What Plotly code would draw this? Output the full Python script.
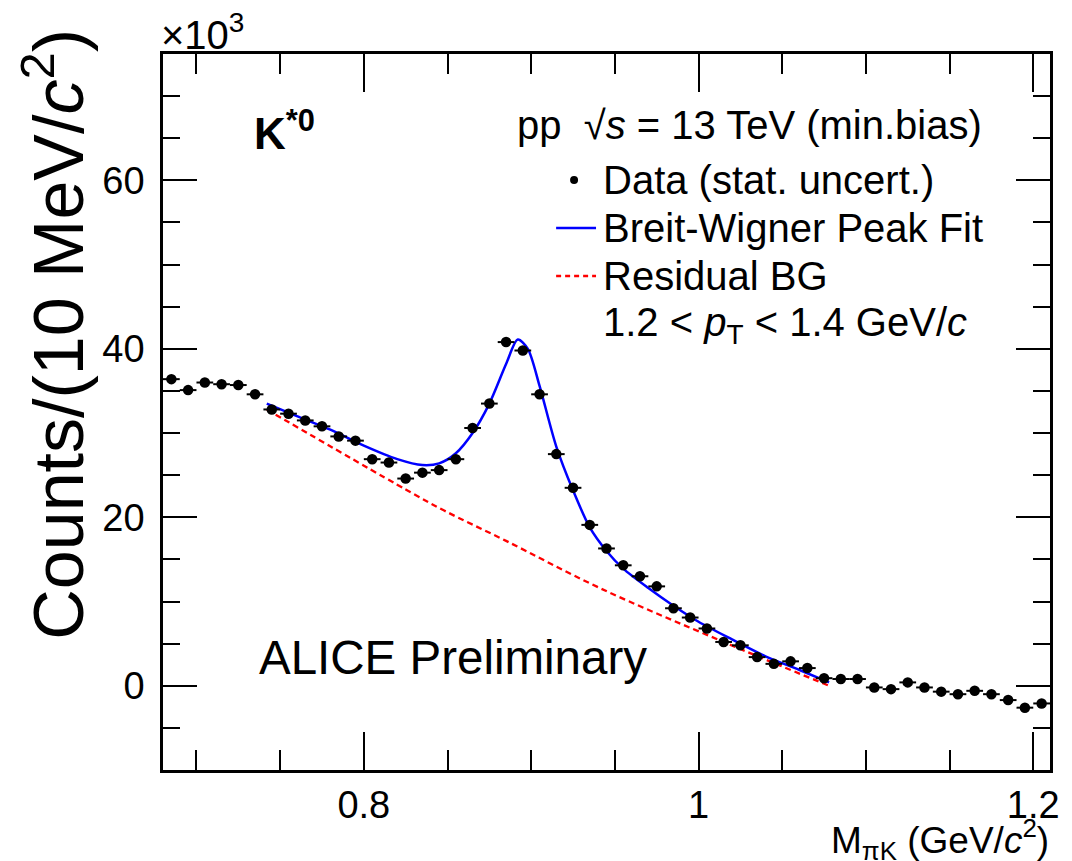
import plotly.graph_objects as go

# ---- data (counts in units of 10^3 per 10 MeV/c^2) ----
mass = [0.685, 0.695, 0.705, 0.715, 0.725, 0.735, 0.745, 0.755, 0.765, 0.775,
        0.785, 0.795, 0.805, 0.815, 0.825, 0.835, 0.845, 0.855, 0.865, 0.875,
        0.885, 0.895, 0.905, 0.915, 0.925, 0.935, 0.945, 0.955, 0.965, 0.975,
        0.985, 0.995, 1.005, 1.015, 1.025, 1.035, 1.045, 1.055, 1.065, 1.075,
        1.085, 1.095, 1.105, 1.115, 1.125, 1.135, 1.145, 1.155, 1.165, 1.175,
        1.185, 1.195, 1.205]
counts = [36.4, 35.1, 36.0, 35.8, 35.7, 34.6, 32.8, 32.3, 31.5, 30.8,
          29.6, 29.1, 26.9, 26.5, 24.6, 25.3, 25.6, 26.9, 30.6, 33.5,
          40.8, 39.8, 34.6, 27.5, 23.5, 19.1, 16.3, 14.3, 13.0, 11.8,
          9.2, 8.1, 6.8, 5.2, 4.8, 3.4, 2.6, 2.9, 2.1, 0.9,
          0.8, 0.8, -0.2, -0.4, 0.4, -0.2, -0.7, -1.0, -0.6, -1.0,
          -1.7, -2.6, -2.1]
stat_err = [0.25] * len(mass)
bin_half = [0.005] * len(mass)

fit_mass = [0.742, 0.76, 0.78, 0.80, 0.82, 0.835, 0.845, 0.855, 0.865, 0.875,
            0.885, 0.892, 0.898, 0.905, 0.915, 0.925, 0.935, 0.945, 0.955, 0.97,
            0.985, 1.00, 1.02, 1.04, 1.06, 1.078]
fit_counts = [33.5, 32.0, 30.4, 28.5, 26.9, 26.2, 26.4, 27.6, 30.0, 33.5,
              38.2, 41.1, 40.0, 35.6, 28.4, 23.2, 18.8, 16.0, 13.9, 11.6,
              9.5, 7.6, 5.5, 3.5, 1.9, 0.4]

bg_mass = [0.742, 0.825, 0.848, 0.885, 0.941, 1.015, 1.078]
bg_counts = [32.8, 23.3, 20.8, 17.2, 11.6, 5.2, 0.0]

FONT = "Liberation Sans"
W, H = 1072, 861
L, R, T, B = 163, 1052, 54, 770


def px(x):
    return (x - L) / (R - L)


def py(y):
    return (B - y) / (B - T)


fig = go.Figure()
fig.add_trace(go.Scatter(x=bg_mass, y=bg_counts, mode="lines",
                         line=dict(color="#ff0000", width=2.3, dash="6px,4px", shape="spline"),
                         showlegend=False))
fig.add_trace(go.Scatter(x=fit_mass, y=fit_counts, mode="lines",
                         line=dict(color="#0000ff", width=2.5, shape="spline", smoothing=0.8),
                         showlegend=False))
fig.add_trace(go.Scatter(x=mass, y=counts, mode="markers",
                         marker=dict(color="black", size=10.5),
                         error_x=dict(type="data", array=bin_half, color="black", thickness=2, width=0),
                         error_y=dict(type="data", array=stat_err, color="black", thickness=2, width=0),
                         showlegend=False))

axis_common = dict(showline=True, linecolor="black", linewidth=2.5, mirror="ticks",
                   ticks="inside", tickcolor="black", tickwidth=2, showgrid=False,
                   zeroline=False, tickfont=dict(family=FONT, size=38, color="black"))

fig.update_xaxes(range=[0.68, 1.21], tickmode="linear", tick0=0, dtick=0.2, ticklen=38,
                 minor=dict(dtick=0.05, ticklen=20, ticks="inside", tickcolor="black", tickwidth=2),
                 ticklabelstandoff=0, **axis_common)
fig.update_yaxes(range=[-10, 75], tickmode="linear", tick0=0, dtick=20, ticklen=34,
                 minor=dict(dtick=5, ticklen=17, ticks="inside", tickcolor="black", tickwidth=2),
                 ticklabelstandoff=8, **axis_common)

ann = []


def text(x, y, s, size, xanchor="left", yanchor="middle", color="black", angle=0):
    ann.append(dict(x=px(x), y=py(y), xref="paper", yref="paper", text=s, showarrow=False,
                    xanchor=xanchor, yanchor=yanchor, textangle=angle, borderpad=0,
                    font=dict(family=FONT, size=size, color=color)))


text(160, 58, "×10<sup>3</sup>", 40, yanchor="bottom")
text(54, 28, "Counts/(10 MeV/<i>c</i><sup>2</sup>)", 70, xanchor="center", yanchor="top", angle=-90)
text(1052, 813, "M<sub>πK</sub> (GeV/<i>c</i><sup>2</sup>)", 37, xanchor="right", yanchor="top")
text(253, 130, "<b>K<sup>*0</sup></b>", 44)
text(985, 125, "pp  √<i>s</i> = 13 TeV (min.bias)", 40, xanchor="right")
text(603, 180, "Data (stat. uncert.)", 40)
text(603, 228, "Breit-Wigner Peak Fit", 40)
text(603, 276, "Residual BG", 40)
text(603, 325, "1.2 < <i>p</i><sub>T</sub> < 1.4 GeV/<i>c</i>", 40)
text(258, 657, "ALICE Preliminary", 47.5)
text(15, 856, "ALI-PREL-106891", 22, yanchor="top", color="#9a9a9a")

shapes = [
    dict(type="circle", xref="paper", yref="paper", x0=px(571), x1=px(579), y0=py(184), y1=py(176),
         fillcolor="black", line=dict(color="black", width=0)),
    dict(type="line", xref="paper", yref="paper", x0=px(557), x1=px(597), y0=py(228), y1=py(228),
         line=dict(color="#0000ff", width=2.5)),
    dict(type="line", xref="paper", yref="paper", x0=px(557), x1=px(597), y0=py(276), y1=py(276),
         line=dict(color="#ff0000", width=2.3, dash="5px,4px")),
]

fig.update_layout(width=W, height=H, margin=dict(l=L, r=W - R, t=T, b=H - B),
                  paper_bgcolor="white", plot_bgcolor="white",
                  annotations=ann, shapes=shapes, showlegend=False)

fig.write_html("out.html")
